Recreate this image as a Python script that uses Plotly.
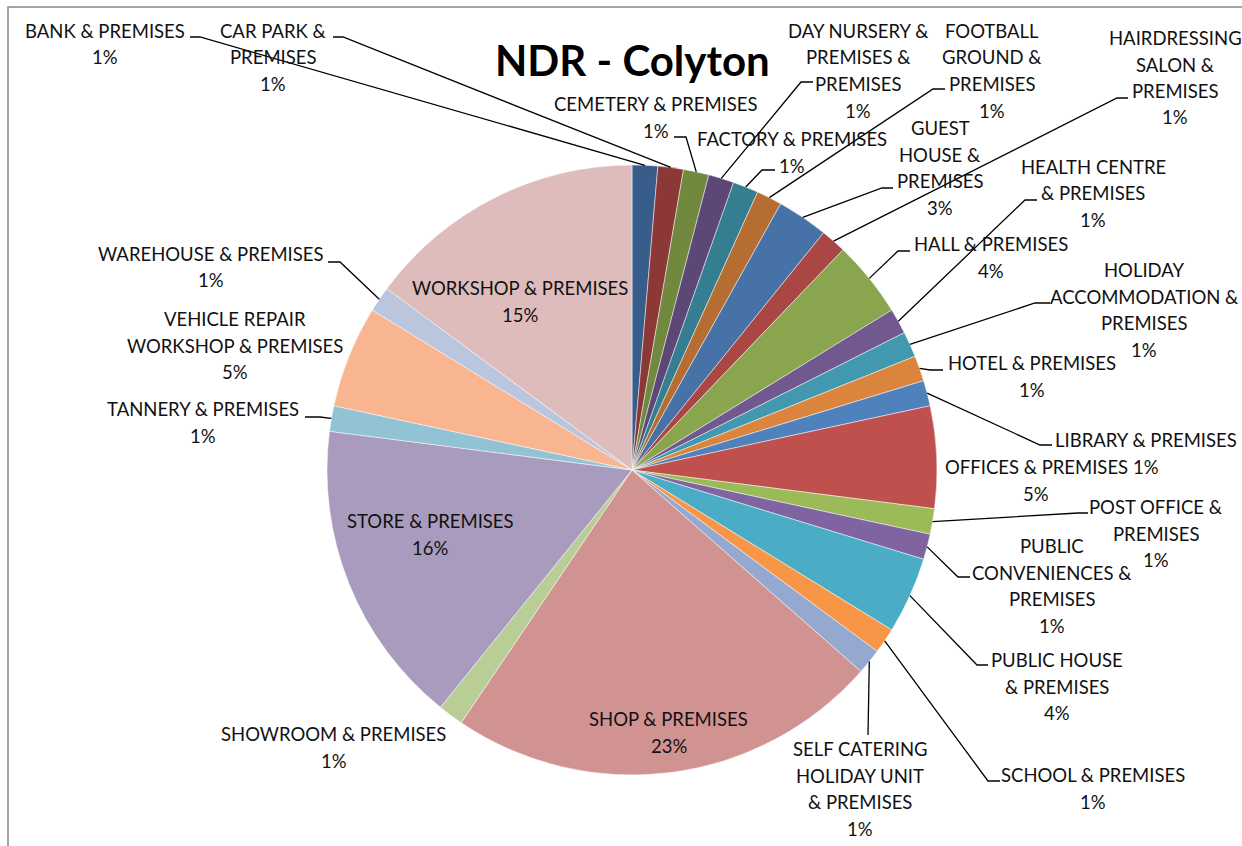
import math
import plotly.graph_objects as go

# ---------------- data ----------------
categories = [
    "BANK & PREMISES", "CAR PARK & PREMISES", "CEMETERY & PREMISES",
    "DAY NURSERY & PREMISES & PREMISES", "FACTORY & PREMISES",
    "FOOTBALL GROUND & PREMISES", "GUEST HOUSE & PREMISES",
    "HAIRDRESSING SALON & PREMISES", "HALL & PREMISES",
    "HEALTH CENTRE & PREMISES", "HOLIDAY ACCOMMODATION & PREMISES",
    "HOTEL & PREMISES", "LIBRARY & PREMISES", "OFFICES & PREMISES",
    "POST OFFICE & PREMISES", "PUBLIC CONVENIENCES & PREMISES",
    "PUBLIC HOUSE & PREMISES", "SCHOOL & PREMISES",
    "SELF CATERING HOLIDAY UNIT & PREMISES", "SHOP & PREMISES",
    "SHOWROOM & PREMISES", "STORE & PREMISES", "TANNERY & PREMISES",
    "VEHICLE REPAIR WORKSHOP & PREMISES", "WAREHOUSE & PREMISES",
    "WORKSHOP & PREMISES",
]
counts = [1, 1, 1, 1, 1, 1, 2, 1, 3, 1, 1, 1, 1, 4, 1, 1, 3, 1, 1, 17, 1, 12, 1, 4, 1, 11]

title_text = "NDR - Colyton"

# ---------------- style / layout ----------------
colors = ["#385D8A", "#8C3836", "#71893F", "#5C4776", "#357D91", "#B66D31",
          "#4672A8", "#AA4643", "#89A54E", "#71588F", "#4198AF", "#DB843D",
          "#4F81BD", "#C0504D", "#9BBB59", "#8064A2", "#4BACC6", "#F79646",
          "#95A9D0", "#D19392", "#B9CD96", "#A99BBD", "#92C3D4", "#F9B590",
          "#B9C6DE", "#DFBCBC"]

W, H = 1242, 846
CX, CY, R = 632, 470, 305          # pie centre / radius in px
FONT = "Lato"
LBL_SIZE = 18.5
LINE_GAP = 26.5

# label layout: wrapped lines, centre x, y of first line, leader (text point, bend point)
label_layout = {
    "BANK & PREMISES": (["BANK & PREMISES"], 105, 31, ((190, 37), (200, 37))),
    "CAR PARK & PREMISES": (["CAR PARK &", "PREMISES"], 273, 31, ((333, 37), (343, 37))),
    "CEMETERY & PREMISES": (["CEMETERY & PREMISES"], 656, 104, ((674, 137), (686, 137))),
    "DAY NURSERY & PREMISES & PREMISES": (["DAY NURSERY &", "PREMISES &", "PREMISES"], 858, 31, ((813, 82), (801, 82))),
    "FACTORY & PREMISES": (["FACTORY & PREMISES"], 792, 139, ((775, 170), (762, 170))),
    "FOOTBALL GROUND & PREMISES": (["FOOTBALL", "GROUND &", "PREMISES"], 992, 31, ((945, 89), (933, 89))),
    "GUEST HOUSE & PREMISES": (["GUEST", "HOUSE &", "PREMISES"], 940, 128, ((893, 188), (882, 188))),
    "HAIRDRESSING SALON & PREMISES": (["HAIRDRESSING", "SALON &", "PREMISES"], 1175, 38, ((1128, 98), (1117, 98))),
    "HALL & PREMISES": (["HALL & PREMISES"], 991, 244, ((910, 251), (898, 251))),
    "HEALTH CENTRE & PREMISES": (["HEALTH CENTRE", "& PREMISES"], 1093, 167, ((1037, 200), (1025, 200))),
    "HOLIDAY ACCOMMODATION & PREMISES": (["HOLIDAY", "ACCOMMODATION &", "PREMISES"], 1144, 270, ((1050, 303), (1035, 303))),
    "HOTEL & PREMISES": (["HOTEL & PREMISES"], 1032, 363, ((943, 370), (930, 370))),
    "LIBRARY & PREMISES": (["LIBRARY & PREMISES"], 1146, 440, ((1052, 445), (1040, 445))),
    "OFFICES & PREMISES": (["OFFICES & PREMISES"], 1036, 467, None),
    "POST OFFICE & PREMISES": (["POST OFFICE &", "PREMISES"], 1156, 507, ((1088, 513), (1078, 513))),
    "PUBLIC CONVENIENCES & PREMISES": (["PUBLIC", "CONVENIENCES &", "PREMISES"], 1052, 546, ((970, 577), (958, 577))),
    "PUBLIC HOUSE & PREMISES": (["PUBLIC HOUSE", "& PREMISES"], 1057, 660, ((988, 665), (977, 665))),
    "SCHOOL & PREMISES": (["SCHOOL & PREMISES"], 1093, 775, ((1000, 781), (988, 781))),
    "SELF CATERING HOLIDAY UNIT & PREMISES": (["SELF CATERING", "HOLIDAY UNIT", "& PREMISES"], 860, 749, ((868, 735), (868, 735))),
    "SHOP & PREMISES": (["SHOP & PREMISES"], 669, 719, None),
    "SHOWROOM & PREMISES": (["SHOWROOM & PREMISES"], 334, 734, None),
    "STORE & PREMISES": (["STORE & PREMISES"], 430, 521, None),
    "TANNERY & PREMISES": (["TANNERY & PREMISES"], 203, 409, ((305, 417), (320, 417))),
    "VEHICLE REPAIR WORKSHOP & PREMISES": (["VEHICLE REPAIR", "WORKSHOP & PREMISES"], 235, 319, None),
    "WAREHOUSE & PREMISES": (["WAREHOUSE & PREMISES"], 211, 254, ((328, 262), (340, 262))),
    "WORKSHOP & PREMISES": (["WORKSHOP & PREMISES"], 520, 288, None),
}


def px(x):
    return x / W


def py(y):
    return 1 - y / H


fig = go.Figure(go.Pie(
    labels=categories,
    values=counts,
    sort=False,
    direction="clockwise",
    rotation=0,
    textinfo="none",
    hoverinfo="label+percent",
    marker=dict(colors=colors, line=dict(color="rgba(255,255,255,0.8)", width=0.6)),
    domain=dict(x=[px(CX - R), px(CX + R)], y=[py(CY + R), py(CY - R)]),
    showlegend=False,
))

total = sum(counts)
annotations = []
shapes = []
cum = 0
for cat, v in zip(categories, counts):
    mid = (cum + v / 2) / total * 2 * math.pi
    cum += v
    ex = CX + R * math.sin(mid)
    ey = CY - R * math.cos(mid)
    lines, lx, ly, leader = label_layout[cat]
    pct = f"{round(100 * v / total)}%"
    all_lines = lines + [pct]
    for i, t in enumerate(all_lines):
        annotations.append(dict(
            x=px(lx), y=py(ly + i * LINE_GAP), xref="paper", yref="paper",
            text=t, showarrow=False, xanchor="center", yanchor="middle",
            font=dict(family=FONT, size=LBL_SIZE, color="#111111"),
        ))
    if leader is not None:
        (tx, ty), (bx, by) = leader
        path = f"M {px(tx)},{py(ty)} L {px(bx)},{py(by)} L {px(ex)},{py(ey)}"
        shapes.append(dict(type="path", path=path, xref="paper", yref="paper",
                           line=dict(color="black", width=1.3)))

# chart area border (top & left visible)
shapes.append(dict(type="rect", xref="paper", yref="paper",
                   x0=px(8), y0=-0.05, x1=1.05, y1=py(7),
                   line=dict(color="#868686", width=1.5)))

annotations.append(dict(
    x=px(632), y=py(60), xref="paper", yref="paper", text=f"<b>{title_text}</b>",
    showarrow=False, xanchor="center", yanchor="middle",
    font=dict(family=FONT, size=42, color="black"),
))

fig.update_layout(
    width=W, height=H,
    margin=dict(l=0, r=0, t=0, b=0),
    paper_bgcolor="white", plot_bgcolor="white",
    annotations=annotations, shapes=shapes,
)

fig.write_html(
    "out.html",
    config={"displayModeBar": False},
    post_script="document.body.style.margin='0px';document.body.style.overflow='hidden';",
)
